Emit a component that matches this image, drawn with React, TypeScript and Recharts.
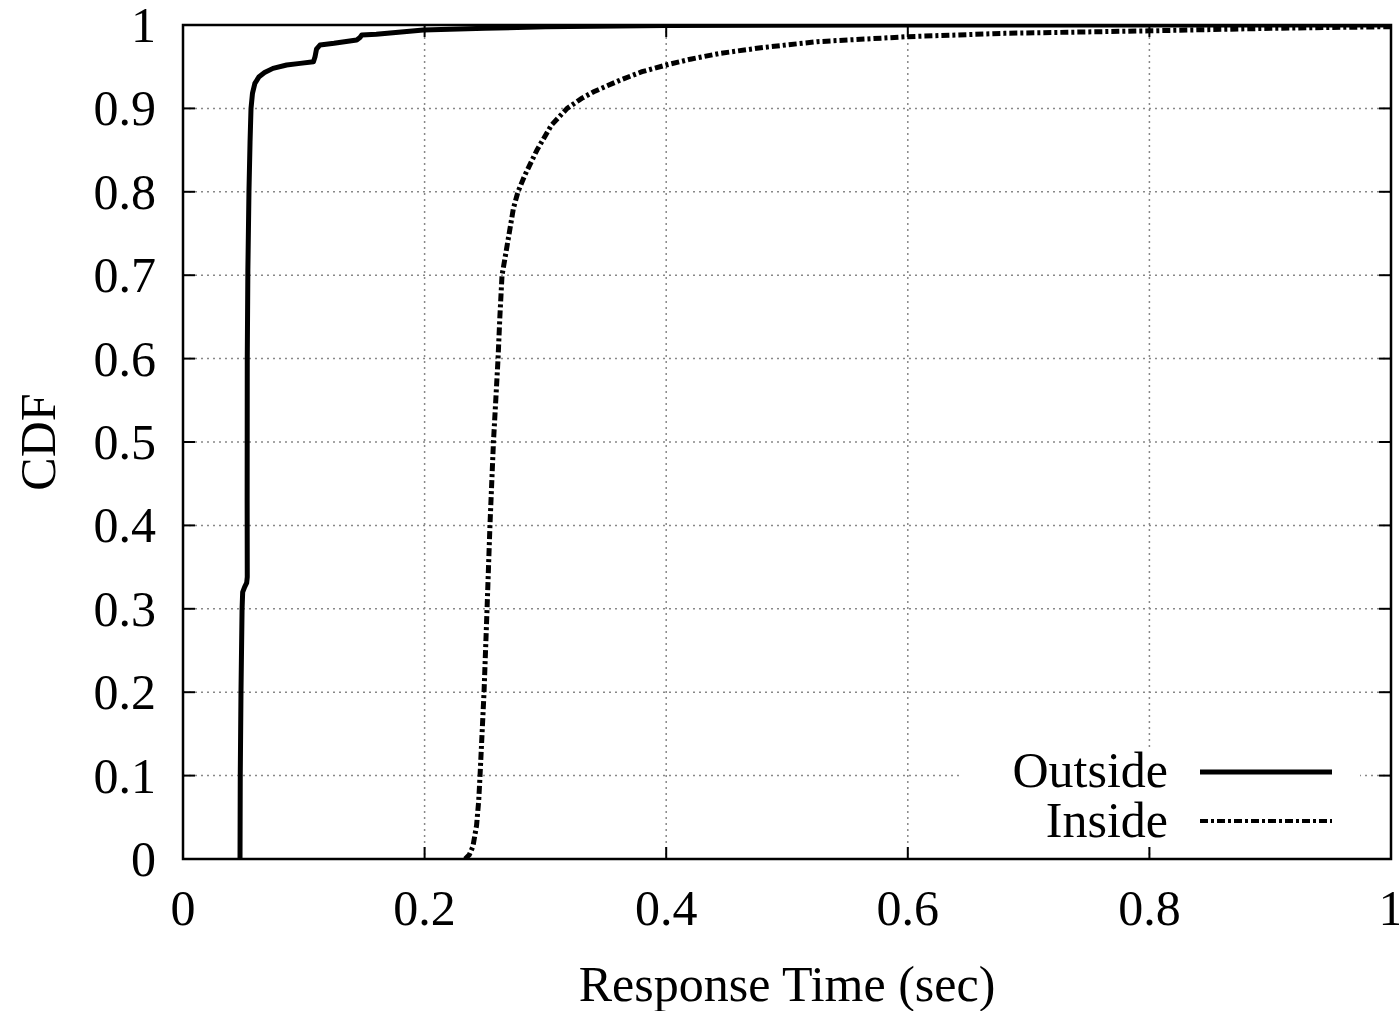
import React from 'react';
import { LineChart, Line, XAxis, YAxis, CartesianGrid, ReferenceArea, Legend, Label } from 'recharts';

// ---- data ----
const outsideX = [0.0472, 0.0474, 0.048, 0.0489, 0.0494, 0.0510, 0.0527, 0.0532, 0.0531, 0.0532, 0.0537, 0.0546, 0.0555, 0.0563, 0.0575, 0.0595, 0.063, 0.0675, 0.0745, 0.0858, 0.097, 0.108, 0.1093, 0.1105, 0.1134, 0.125, 0.1438, 0.1465, 0.148, 0.16, 0.199, 0.25, 0.3, 0.4, 0.6, 1.0];
const outsideY = [0.0, 0.1, 0.2, 0.3, 0.32, 0.326, 0.331, 0.338, 0.43, 0.6, 0.706, 0.8, 0.86, 0.9, 0.918, 0.930, 0.938, 0.943, 0.948, 0.952, 0.954, 0.956, 0.962, 0.971, 0.976, 0.978, 0.982, 0.985, 0.988, 0.989, 0.994, 0.996, 0.998, 0.9995, 1.0, 1.0];

const insideX = [0.2335, 0.237, 0.240, 0.243, 0.2448, 0.2459, 0.2492, 0.2517, 0.2541, 0.2570, 0.2608, 0.2623, 0.2641, 0.2665, 0.270, 0.2735, 0.2773, 0.283, 0.293, 0.305, 0.318, 0.33, 0.340, 0.362, 0.38, 0.400, 0.42, 0.4445, 0.48, 0.525, 0.6, 0.68, 0.8, 0.9, 1.0];
const insideY = [0.0, 0.005, 0.015, 0.04, 0.07, 0.1, 0.2, 0.3, 0.4, 0.5, 0.6, 0.65, 0.7, 0.72, 0.75, 0.78, 0.8, 0.82, 0.85, 0.88, 0.9, 0.912, 0.92, 0.934, 0.944, 0.952, 0.959, 0.966, 0.973, 0.98, 0.986, 0.99, 0.993, 0.996, 0.998];

const xTicks = [0, 0.2, 0.4, 0.6, 0.8, 1];
const xTickLabels = ['0', '0.2', '0.4', '0.6', '0.8', '1'];
const yTicks = [0, 0.1, 0.2, 0.3, 0.4, 0.5, 0.6, 0.7, 0.8, 0.9, 1];
const yTickLabels = ['0', '0.1', '0.2', '0.3', '0.4', '0.5', '0.6', '0.7', '0.8', '0.9', '1'];
const seriesNames = ['Outside', 'Inside'];
const xAxisTitle = 'Response Time (sec)';
const yAxisTitle = 'CDF';

const outsideData = outsideX.map((x, i) => ({ x, y: outsideY[i] }));
const insideData = insideX.map((x, i) => ({ x, y: insideY[i] }));

// ---- layout ----
const W = 1399;
const H = 1011;
const M = { top: 25, right: 8, bottom: 12, left: 13 };
const Y_AXIS_W = 170;
const X_AXIS_H = 140;
const PLOT_W = W - M.left - M.right - Y_AXIS_W;
const PLOT_H = H - M.top - M.bottom - X_AXIS_H;
const TICK_LEN = 12;
const Y_TICK_MARGIN = 27;
const X_TICK_MARGIN = 31;
const FONT = '"Liberation Serif", "Times New Roman", Times, serif';
const FS = 50;

const OUT_STYLE = { stroke: '#000', strokeWidth: 5, dash: undefined as string | undefined };
const IN_STYLE = { stroke: '#000', strokeWidth: 5, dash: '8 3 3 3' };

const YTick = (props: any) => {
  const { x, y, payload } = props;
  const idx = yTicks.indexOf(payload.value);
  const left = x + Y_TICK_MARGIN;
  const right = left + PLOT_W;
  return (
    <g>
      <line x1={left} y1={y} x2={left + TICK_LEN} y2={y} stroke="#000" strokeWidth={2} />
      <line x1={right} y1={y} x2={right - TICK_LEN} y2={y} stroke="#000" strokeWidth={2} />
      <text x={x} y={y} dy="0.34em" textAnchor="end" fontFamily={FONT} fontSize={FS} fill="#000">
        {idx >= 0 ? yTickLabels[idx] : String(payload.value)}
      </text>
    </g>
  );
};

const XTick = (props: any) => {
  const { x, y, payload } = props;
  const idx = xTicks.indexOf(payload.value);
  const bottom = y - X_TICK_MARGIN;
  const top = bottom - PLOT_H;
  return (
    <g>
      <line x1={x} y1={bottom} x2={x} y2={bottom - TICK_LEN} stroke="#000" strokeWidth={2} />
      <line x1={x} y1={top} x2={x} y2={top + TICK_LEN} stroke="#000" strokeWidth={2} />
      <text x={x} y={y} dy="0.69em" textAnchor="middle" fontFamily={FONT} fontSize={FS} fill="#000">
        {idx >= 0 ? xTickLabels[idx] : String(payload.value)}
      </text>
    </g>
  );
};

const XTitle = (props: any) => {
  const vb = props.viewBox || {};
  return (
    <text x={vb.x + vb.width / 2} y={vb.y + 142} textAnchor="middle" fontFamily={FONT} fontSize={FS} fill="#000">
      {xAxisTitle}
    </text>
  );
};

const YTitle = (props: any) => {
  const vb = props.viewBox || {};
  const cx = vb.x + 42;
  const cy = vb.y + vb.height / 2;
  return (
    <text x={cx} y={cy} textAnchor="middle" transform={`rotate(-90 ${cx} ${cy})`} fontFamily={FONT} fontSize={FS} fill="#000">
      {yAxisTitle}
    </text>
  );
};

const LegendBox = () => {
  const styles = [OUT_STYLE, IN_STYLE];
  return (
    <svg width={398} height={100} style={{ display: 'block', overflow: 'visible' }}>
      <rect x={0} y={0} width={398} height={100} fill="#fff" />
      {seriesNames.map((name, i) => (
        <g key={name}>
          <text x={206} y={40 + i * 50} textAnchor="end" fontFamily={FONT} fontSize={FS} fill="#000">
            {name}
          </text>
          <line
            x1={238}
            x2={370}
            y1={25 + i * 49}
            y2={25 + i * 49}
            stroke={styles[i].stroke}
            strokeWidth={i === 0 ? styles[i].strokeWidth : 4}
            strokeDasharray={styles[i].dash}
          />
        </g>
      ))}
    </svg>
  );
};

export default function App() {
  return (
    <div style={{ position: 'absolute', left: 0, top: 0, background: '#fff' }}>
      <LineChart width={W} height={H} margin={M}>
        <CartesianGrid stroke="#888" strokeWidth={1.5} strokeDasharray="2 4" horizontalValues={yTicks} verticalValues={xTicks} />
        <XAxis
          type="number"
          dataKey="x"
          domain={[0, 1]}
          ticks={xTicks}
          interval={0}
          allowDataOverflow
          axisLine={false}
          tickLine={false}
          tickSize={0}
          tickMargin={X_TICK_MARGIN}
          height={X_AXIS_H}
          tick={<XTick />}
        >
          <Label content={<XTitle />} />
        </XAxis>
        <YAxis
          type="number"
          dataKey="y"
          domain={[0, 1]}
          ticks={yTicks}
          interval={0}
          allowDataOverflow
          axisLine={false}
          tickLine={false}
          tickSize={0}
          tickMargin={Y_TICK_MARGIN}
          width={Y_AXIS_W}
          tick={<YTick />}
        >
          <Label content={<YTitle />} />
        </YAxis>
        <Legend
          layout="vertical"
          align="center"
          verticalAlign="middle"
          content={<LegendBox />}
          wrapperStyle={{ position: 'absolute', left: 962, top: 747, bottom: 'auto', width: 398, height: 100 }}
        />
        <Line
          data={insideData}
          dataKey="y"
          name={seriesNames[1]}
          type="linear"
          stroke={IN_STYLE.stroke}
          strokeWidth={IN_STYLE.strokeWidth}
          strokeDasharray={IN_STYLE.dash}
          dot={false}
          activeDot={false}
          isAnimationActive={false}
        />
        <Line
          data={outsideData}
          dataKey="y"
          name={seriesNames[0]}
          type="linear"
          stroke={OUT_STYLE.stroke}
          strokeWidth={OUT_STYLE.strokeWidth}
          strokeLinejoin="round"
          dot={false}
          activeDot={false}
          isAnimationActive={false}
        />
        <ReferenceArea x1={0} x2={1} y1={0} y2={1} fill="none" fillOpacity={0} stroke="#000" strokeWidth={2.5} ifOverflow="visible" />
      </LineChart>
    </div>
  );
}
